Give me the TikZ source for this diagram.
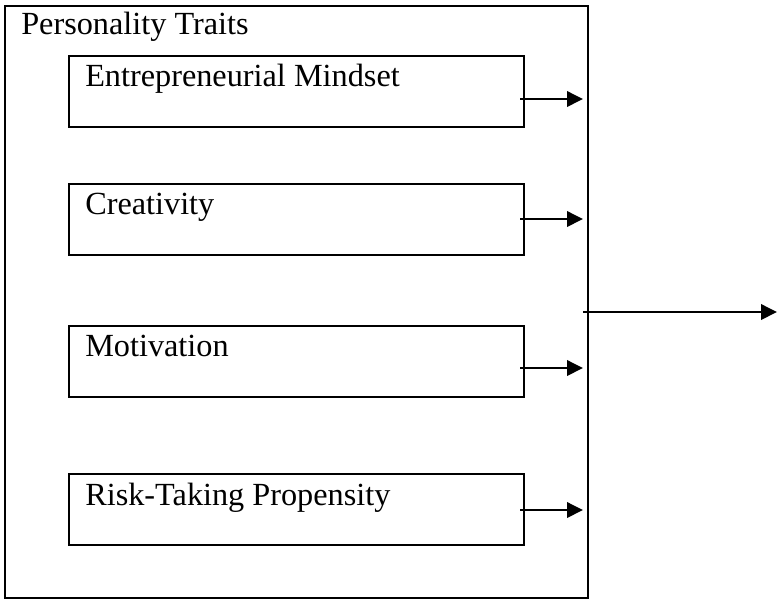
\documentclass[tikz,border=0pt]{standalone}
\usepackage{fontspec}
\setmainfont{Liberation Serif}
\usetikzlibrary{arrows.meta,calc}
\begin{document}
\begin{tikzpicture}[x=0.75pt,y=-0.75pt,
  frame/.style={draw=black,line width=1.7pt,inner sep=0pt,outer sep=0pt,anchor=north west},
  traitbox/.style={frame,minimum width=341.25pt,minimum height=53pt},
  lbl/.style={inner sep=0pt,anchor=base west,font=\fontsize{24.2pt}{28pt}\selectfont},
  arr/.style={line width=1.9pt,-{Triangle[length=12pt,width=11.5pt]}}]
\useasboundingbox (0,0) rectangle (778,601);
% outer frame and heading
\node[frame,minimum width=437.25pt,minimum height=444pt] (outer) at (5,6) {};
\node[lbl] (title) at (21,34) {Personality Traits};
% trait boxes
\node[traitbox] (b1) at (69,56) {};
\node[traitbox] (b2) at (69,184) {};
\node[traitbox] (b3) at (69,326) {};
\node[traitbox] (b4) at (69,474) {};
\node[lbl] (t1) at ($(b1.north west)+(16,30)$) {Entrepreneurial Mindset};
\node[lbl] (t2) at ($(b2.north west)+(16,30)$) {Creativity};
\node[lbl] (t3) at ($(b3.north west)+(16,30)$) {Motivation};
\node[lbl] (t4) at ($(b4.north west)+(16,31)$) {Risk-Taking Propensity};
% arrows from each trait to the frame edge
\draw[arr] ($(b1.east |- 0,99)+(-4,0)$) -- ($(outer.east |- 0,99)+(-5,0)$);
\draw[arr] ($(b2.east |- 0,219)+(-4,0)$) -- ($(outer.east |- 0,219)+(-5,0)$);
\draw[arr] ($(b3.east |- 0,368)+(-4,0)$) -- ($(outer.east |- 0,368)+(-5,0)$);
\draw[arr] ($(b4.east |- 0,510)+(-4,0)$) -- ($(outer.east |- 0,510)+(-5,0)$);
% outgoing arrow
\coordinate (out) at (777,312);
\draw[arr] ($(outer.east |- out)+(-5,0)$) -- (out);
\end{tikzpicture}
\end{document}
